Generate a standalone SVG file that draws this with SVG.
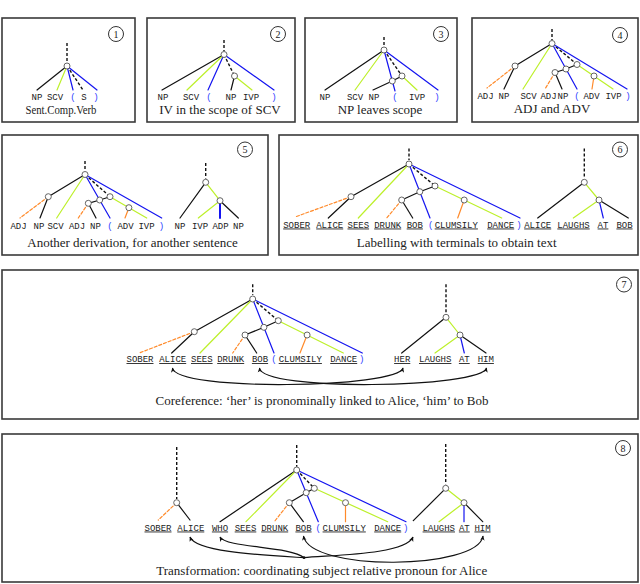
<svg xmlns="http://www.w3.org/2000/svg" width="640" height="584" viewBox="0 0 640 584">
<style>
.bx{fill:#fff;stroke:#3a3a3a;stroke-width:1.6}
.e{fill:none;stroke-width:1.2;stroke-linecap:round}
.k{stroke:#111}
.y{stroke:#bdf02a}
.b{stroke:#1414f0}
.o{stroke:#ff8a2a}
.d{stroke-dasharray:3 2}
.kd{stroke:#111;stroke-dasharray:3 2;stroke-width:1.4;stroke-linecap:butt}
.n{fill:#fff;stroke:#555;stroke-width:0.9}
.lb{font-family:"Liberation Mono",monospace;font-size:9px;fill:#222;text-anchor:middle}
.u{text-decoration:underline}
.p{fill:#3344ff}
.cap{font-family:"Liberation Serif",serif;font-size:13px;fill:#222;text-anchor:middle}
.num{fill:#fff;stroke:#333;stroke-width:1}
.nt{font-family:"Liberation Serif",serif;font-size:10px;text-anchor:middle;fill:#222}
.ar{fill:none;stroke:#111;stroke-width:1.2}
</style>
<defs>
<marker id="ah" viewBox="0 0 8 8" refX="7" refY="4" markerWidth="5" markerHeight="5" orient="auto-start-reverse" markerUnits="userSpaceOnUse">
<path d="M0,0.5 L8,4 L0,7.5 L2,4 Z" fill="#111"/>
</marker>
</defs>
<rect width="640" height="584" fill="#fff"/>

<!-- Panel 1 -->
<g id="panel1">
<rect class="bx" x="2" y="18" width="133" height="104"/>
<g id="p1-badge"><circle class="num" cx="116" cy="34" r="7.5"/><text class="nt" x="116" y="37.5">1</text></g>
<g id="p1-edges">
<line class="e kd" x1="67" y1="43" x2="67" y2="62"/>
<line class="e k" x1="67" y1="66" x2="37" y2="90"/>
<line class="e y" x1="67" y1="66" x2="57" y2="90"/>
<line class="e b" x1="67" y1="66" x2="73" y2="90"/>
<line class="e kd" x1="67" y1="66" x2="83" y2="90"/>
<line class="e b" x1="67" y1="66" x2="97" y2="90"/>
</g>
<g id="p1-root"><circle class="n" cx="67" cy="66" r="3"/></g>
<g id="p1-labels">
<text class="lb" x="37" y="100">NP</text>
<text class="lb" x="55" y="100">SCV</text>
<text class="lb p" x="73" y="100">(</text>
<text class="lb" x="84" y="100">S</text>
<text class="lb p" x="96" y="100">)</text>
</g>
<text class="cap" x="61" y="114" textLength="71" lengthAdjust="spacingAndGlyphs">Sent.Comp.Verb</text>
</g>

<!-- Panel 2 -->
<g id="panel2">
<rect class="bx" x="147" y="18" width="148" height="104"/>
<g id="p2-badge"><circle class="num" cx="278" cy="34" r="7.5"/><text class="nt" x="278" y="37.5">2</text></g>
<g id="p2-edges">
<line class="e kd" x1="224" y1="40" x2="224" y2="51"/>
<line class="e k" x1="224" y1="54.5" x2="162" y2="90"/>
<line class="e y" x1="224" y1="54.5" x2="187" y2="90"/>
<line class="e b" x1="224" y1="54.5" x2="208" y2="90"/>
<line class="e kd" x1="224" y1="54.5" x2="234.5" y2="76"/>
<line class="e b" x1="224" y1="54.5" x2="274" y2="90"/>
<line class="e k" x1="234.5" y1="76" x2="231" y2="90"/>
<line class="e y" x1="234.5" y1="76" x2="252" y2="90"/>
</g>
<g id="p2-root"><circle class="n" cx="224" cy="54.5" r="3"/></g>
<g id="p2-n2"><circle class="n" cx="234.5" cy="76" r="3"/></g>
<g id="p2-labels">
<text class="lb" x="163" y="100">NP</text>
<text class="lb" x="191" y="100">SCV</text>
<text class="lb p" x="209" y="100">(</text>
<text class="lb" x="231" y="100">NP</text>
<text class="lb" x="251" y="100">IVP</text>
<text class="lb p" x="274" y="100">)</text>
</g>
<text class="cap" x="220" y="114">IV in the scope of SCV</text>
</g>

<!-- Panel 3 -->
<g id="panel3">
<rect class="bx" x="305" y="18" width="152" height="104"/>
<g id="p3-badge"><circle class="num" cx="441" cy="34" r="7.5"/><text class="nt" x="441" y="37.5">3</text></g>
<g id="p3-edges">
<line class="e kd" x1="384" y1="37" x2="384" y2="47"/>
<line class="e k" x1="384" y1="50" x2="325" y2="90"/>
<line class="e y" x1="384" y1="50" x2="355" y2="90"/>
<line class="e b" x1="384" y1="50" x2="395" y2="91"/>
<line class="e kd" x1="384" y1="50" x2="402" y2="76"/>
<line class="e b" x1="384" y1="50" x2="438" y2="90"/>
<line class="e k" x1="402" y1="76" x2="392.3" y2="81"/>
<line class="e k" x1="392.3" y1="81" x2="373" y2="90"/>
<line class="e y" x1="402" y1="76" x2="417" y2="90"/>
</g>
<g id="p3-root"><circle class="n" cx="384" cy="50" r="3"/></g>
<g id="p3-na"><circle class="n" cx="392.3" cy="81" r="3"/></g>
<g id="p3-nb"><circle class="n" cx="402" cy="76" r="3"/></g>
<g id="p3-labels">
<text class="lb" x="325" y="100">NP</text>
<text class="lb" x="355" y="100">SCV</text>
<text class="lb" x="374" y="100">NP</text>
<text class="lb p" x="395" y="100">(</text>
<text class="lb" x="417" y="100">IVP</text>
<text class="lb p" x="437" y="100">)</text>
</g>
<text class="cap" x="380" y="114">NP leaves scope</text>
</g>

<!-- Panel 4 -->
<g id="panel4">
<rect class="bx" x="472" y="18" width="166" height="104"/>
<g id="p4-badge"><circle class="num" cx="620" cy="35" r="7.5"/><text class="nt" x="620" y="38.5">4</text></g>
<g id="p4-edges">
<line class="e kd" x1="552" y1="29" x2="552" y2="40"/>
<line class="e k" x1="552" y1="43.5" x2="515" y2="66"/>
<line class="e o d" x1="515" y1="66" x2="487" y2="88"/>
<line class="e k" x1="515" y1="66" x2="504" y2="89"/>
<line class="e y" x1="552" y1="43.5" x2="523" y2="89"/>
<line class="e b" x1="552" y1="43.5" x2="577" y2="89"/>
<line class="e kd" x1="552" y1="43.5" x2="577" y2="64.5"/>
<line class="e k" x1="577" y1="64.5" x2="566" y2="69"/>
<line class="e k" x1="566" y1="69" x2="555" y2="72.5"/>
<line class="e o d" x1="555" y1="72.5" x2="545" y2="89"/>
<line class="e k" x1="555" y1="72.5" x2="562" y2="89"/>
<line class="e y" x1="577" y1="64.5" x2="613" y2="89"/>
<line class="e o" x1="594" y1="76" x2="592" y2="89"/>
<line class="e b" x1="552" y1="43.5" x2="627" y2="89"/>
</g>
<g id="p4-root"><circle class="n" cx="552" cy="43.5" r="3"/></g>
<g id="p4-nl"><circle class="n" cx="515" cy="66" r="3"/></g>
<g id="p4-nm"><circle class="n" cx="566" cy="69" r="3"/></g>
<g id="p4-nr"><circle class="n" cx="577" cy="64.5" r="3"/></g>
<g id="p4-nk"><circle class="n" cx="555" cy="72.5" r="3"/></g>
<g id="p4-nv"><circle class="n" cx="594" cy="76" r="3"/></g>
<g id="p4-labels">
<text class="lb" x="485.5" y="99">ADJ</text>
<text class="lb" x="504" y="99">NP</text>
<text class="lb" x="528.5" y="99">SCV</text>
<text class="lb" x="548.5" y="99">ADJ</text>
<text class="lb" x="563" y="99">NP</text>
<text class="lb p" x="577" y="99">(</text>
<text class="lb" x="591.5" y="99">ADV</text>
<text class="lb" x="613.5" y="99">IVP</text>
<text class="lb p" x="628" y="99">)</text>
</g>
<text class="cap" x="552" y="113">ADJ and ADV</text>
</g>

<!-- Panel 5 -->
<g id="panel5">
<rect class="bx" x="2" y="135" width="266" height="120"/>
<g id="p5-badge"><circle class="num" cx="245" cy="149.5" r="7.5"/><text class="nt" x="245" y="153">5</text></g>
<g id="p5-edges">
<line class="e kd" x1="85" y1="161" x2="85" y2="171"/>
<line class="e k" x1="85" y1="174.5" x2="48.3" y2="196.7"/>
<line class="e o d" x1="48.3" y1="196.7" x2="20" y2="218"/>
<line class="e k" x1="48.3" y1="196.7" x2="40" y2="218"/>
<line class="e y" x1="85" y1="174.5" x2="56.7" y2="218"/>
<line class="e b" x1="85" y1="174.5" x2="110" y2="218"/>
<line class="e kd" x1="85" y1="174.5" x2="110" y2="196.7"/>
<line class="e k" x1="110" y1="196.7" x2="99.7" y2="200"/>
<line class="e k" x1="99.7" y1="200" x2="88.3" y2="203.3"/>
<line class="e o d" x1="88.3" y1="203.3" x2="78.3" y2="218"/>
<line class="e k" x1="88.3" y1="203.3" x2="96" y2="218"/>
<line class="e y" x1="110" y1="196.7" x2="146.7" y2="218"/>
<line class="e o" x1="128.9" y1="207.7" x2="125" y2="218"/>
<line class="e b" x1="85" y1="174.5" x2="161.7" y2="218"/>
<line class="e kd" x1="205.7" y1="163" x2="205.7" y2="178.5"/>
<line class="e k" x1="205.7" y1="182.3" x2="180" y2="218"/>
<line class="e y" x1="205.7" y1="182.3" x2="220" y2="200.7"/>
<line class="e y" x1="220" y1="200.7" x2="198.3" y2="218"/>
<line class="e b" x1="220" y1="200.7" x2="220" y2="218" style="stroke-width:2"/>
<line class="e k" x1="220" y1="200.7" x2="238.3" y2="218"/>
</g>
<g id="p5-root"><circle class="n" cx="85" cy="174.5" r="3"/></g>
<g id="p5-nl"><circle class="n" cx="48.3" cy="196.7" r="3"/></g>
<g id="p5-nm"><circle class="n" cx="99.7" cy="200" r="3"/></g>
<g id="p5-nr"><circle class="n" cx="110" cy="196.7" r="3"/></g>
<g id="p5-nk"><circle class="n" cx="88.3" cy="203.3" r="3"/></g>
<g id="p5-nv"><circle class="n" cx="128.9" cy="207.7" r="3"/></g>
<g id="p5-root2"><circle class="n" cx="205.7" cy="182.3" r="3"/></g>
<g id="p5-nn"><circle class="n" cx="220" cy="200.7" r="3"/></g>
<g id="p5-labels">
<text class="lb" x="18.5" y="229">ADJ</text>
<text class="lb" x="39" y="229">NP</text>
<text class="lb" x="55.5" y="229">SCV</text>
<text class="lb" x="77" y="229">ADJ</text>
<text class="lb" x="95.5" y="229">NP</text>
<text class="lb p" x="110" y="229">(</text>
<text class="lb" x="125.5" y="229">ADV</text>
<text class="lb" x="146.5" y="229">IVP</text>
<text class="lb p" x="161.5" y="229">)</text>
<text class="lb" x="180" y="229">NP</text>
<text class="lb" x="200" y="229">IVP</text>
<text class="lb" x="220.5" y="229">ADP</text>
<text class="lb" x="238.5" y="229">NP</text>
</g>
<text class="cap" x="132.5" y="247">Another derivation, for another sentence</text>
</g>

<!-- Panel 6 -->
<g id="panel6">
<rect class="bx" x="279" y="135" width="359" height="120"/>
<g id="p6-badge"><circle class="num" cx="620" cy="149.5" r="7.5"/><text class="nt" x="620" y="153">6</text></g>
<g id="p6-edges">
<line class="e kd" x1="409" y1="148.5" x2="409" y2="160"/>
<line class="e k" x1="409" y1="164" x2="351" y2="196.7"/>
<line class="e o d" x1="351" y1="196.7" x2="295" y2="217"/>
<line class="e k" x1="351" y1="196.7" x2="328.3" y2="218"/>
<line class="e y" x1="409" y1="164" x2="358.3" y2="218"/>
<line class="e b" x1="409" y1="164" x2="430" y2="218"/>
<line class="e kd" x1="409" y1="164" x2="435" y2="186"/>
<line class="e k" x1="435" y1="186" x2="419.8" y2="191.7"/>
<line class="e k" x1="419.8" y1="191.7" x2="401.7" y2="200"/>
<line class="e o d" x1="401.7" y1="200" x2="386.7" y2="218"/>
<line class="e k" x1="401.7" y1="200" x2="412.7" y2="218"/>
<line class="e y" x1="435" y1="186" x2="501.7" y2="218"/>
<line class="e o" x1="464.2" y1="200" x2="457.7" y2="218"/>
<line class="e b" x1="409" y1="164" x2="520" y2="218"/>
<line class="e kd" x1="584.3" y1="148.5" x2="584.3" y2="178.5"/>
<line class="e k" x1="584.3" y1="182.3" x2="537.7" y2="218"/>
<line class="e y" x1="584.3" y1="182.3" x2="599" y2="200"/>
<line class="e y" x1="599" y1="200" x2="573.3" y2="218"/>
<line class="e b" x1="599" y1="200" x2="603.3" y2="218"/>
<line class="e k" x1="599" y1="200" x2="628.3" y2="218"/>
</g>
<g id="p6-root"><circle class="n" cx="409" cy="164" r="3"/></g>
<g id="p6-nl"><circle class="n" cx="351" cy="196.7" r="3"/></g>
<g id="p6-nm"><circle class="n" cx="419.8" cy="191.7" r="3"/></g>
<g id="p6-nr"><circle class="n" cx="435" cy="186" r="3"/></g>
<g id="p6-nk"><circle class="n" cx="401.7" cy="200" r="3"/></g>
<g id="p6-nv"><circle class="n" cx="464.2" cy="200" r="3"/></g>
<g id="p6-root2"><circle class="n" cx="584.3" cy="182.3" r="3"/></g>
<g id="p6-nn"><circle class="n" cx="599" cy="200" r="3"/></g>
<g id="p6-labels">
<text class="lb u" x="296.7" y="227.5">SOBER</text>
<text class="lb u" x="329.7" y="227.5">ALICE</text>
<text class="lb u" x="358.3" y="227.5">SEES</text>
<text class="lb u" x="387.7" y="227.5">DRUNK</text>
<text class="lb u" x="414.8" y="227.5">BOB</text>
<text class="lb p" x="430.7" y="227.5">(</text>
<text class="lb u" x="456.3" y="227.5">CLUMSILY</text>
<text class="lb u" x="500.7" y="227.5">DANCE</text>
<text class="lb p" x="519" y="227.5">)</text>
<text class="lb u" x="537.7" y="227.5">ALICE</text>
<text class="lb u" x="573.5" y="227.5">LAUGHS</text>
<text class="lb u" x="603" y="227.5">AT</text>
<text class="lb u" x="624.5" y="227.5">BOB</text>
</g>
<text class="cap" x="456.7" y="247">Labelling with terminals to obtain text</text>
</g>

<!-- Panel 7 -->
<g id="panel7">
<rect class="bx" x="2" y="270" width="636" height="149"/>
<g id="p7-badge"><circle class="num" cx="624" cy="284.5" r="7.5"/><text class="nt" x="624" y="288">7</text></g>
<g id="p7-edges">
<line class="e kd" x1="252.7" y1="284.3" x2="252.7" y2="295"/>
<line class="e k" x1="252.7" y1="299" x2="194.3" y2="331.7"/>
<line class="e o d" x1="194.3" y1="331.7" x2="139.3" y2="353"/>
<line class="e k" x1="194.3" y1="331.7" x2="171.7" y2="353"/>
<line class="e y" x1="252.7" y1="299" x2="200" y2="353"/>
<line class="e b" x1="252.7" y1="299" x2="274" y2="353"/>
<line class="e kd" x1="252.7" y1="299" x2="278.3" y2="320.7"/>
<line class="e k" x1="278.3" y1="320.7" x2="263.9" y2="327.3"/>
<line class="e k" x1="263.9" y1="327.3" x2="245" y2="335"/>
<line class="e o d" x1="245" y1="335" x2="232.7" y2="353"/>
<line class="e k" x1="245" y1="335" x2="256.7" y2="353"/>
<line class="e y" x1="278.3" y1="320.7" x2="343.3" y2="353"/>
<line class="e o" x1="307.1" y1="335" x2="300" y2="353"/>
<line class="e b" x1="252.7" y1="299" x2="362.3" y2="353"/>
<line class="e kd" x1="446" y1="284.3" x2="446" y2="313.3"/>
<line class="e k" x1="446" y1="317.3" x2="401.7" y2="353"/>
<line class="e y" x1="446" y1="317.3" x2="460" y2="335"/>
<line class="e y" x1="460" y1="335" x2="435" y2="353"/>
<line class="e b" x1="460" y1="335" x2="464.3" y2="353"/>
<line class="e k" x1="460" y1="335" x2="486" y2="353"/>
<path class="ar" d="M172.5,368 C176,392 398,388 403,368" marker-start="url(#ah)" marker-end="url(#ah)"/>
<path class="ar" d="M259.5,368 C262,392 482,388 486.5,368" marker-start="url(#ah)" marker-end="url(#ah)"/>
</g>
<g id="p7-root"><circle class="n" cx="252.7" cy="299" r="3"/></g>
<g id="p7-nl"><circle class="n" cx="194.3" cy="331.7" r="3"/></g>
<g id="p7-nm"><circle class="n" cx="263.9" cy="327.3" r="3"/></g>
<g id="p7-nr"><circle class="n" cx="278.3" cy="320.7" r="3"/></g>
<g id="p7-nk"><circle class="n" cx="245" cy="335" r="3"/></g>
<g id="p7-nv"><circle class="n" cx="307.1" cy="335" r="3"/></g>
<g id="p7-root2"><circle class="n" cx="446" cy="317.3" r="3"/></g>
<g id="p7-nn"><circle class="n" cx="460" cy="335" r="3"/></g>
<g id="p7-labels">
<text class="lb u" x="140" y="362">SOBER</text>
<text class="lb u" x="172.7" y="362">ALICE</text>
<text class="lb u" x="201.8" y="362">SEES</text>
<text class="lb u" x="230.7" y="362">DRUNK</text>
<text class="lb u" x="260" y="362">BOB</text>
<text class="lb p" x="274" y="362">(</text>
<text class="lb u" x="300.3" y="362">CLUMSILY</text>
<text class="lb u" x="343.7" y="362">DANCE</text>
<text class="lb p" x="361.7" y="362">)</text>
<text class="lb u" x="402.2" y="362">HER</text>
<text class="lb u" x="435.2" y="362">LAUGHS</text>
<text class="lb u" x="464.3" y="362">AT</text>
<text class="lb u" x="485.8" y="362">HIM</text>
</g>
<text class="cap" x="322" y="405">Coreference: ‘her’ is pronominally linked to Alice, ‘him’ to Bob</text>
</g>

<!-- Panel 8 -->
<g id="panel8">
<rect class="bx" x="2" y="434" width="636" height="148"/>
<g id="p8-badge"><circle class="num" cx="623" cy="448" r="7.5"/><text class="nt" x="623" y="451.5">8</text></g>
<g id="p8-edges">
<line class="e kd" x1="176.7" y1="447" x2="176.7" y2="499"/>
<line class="e o d" x1="176.7" y1="502.7" x2="158.3" y2="520"/>
<line class="e k" x1="176.7" y1="502.7" x2="190" y2="520"/>
<line class="e kd" x1="296.7" y1="445" x2="296.7" y2="466.7"/>
<line class="e k" x1="296.7" y1="470" x2="220" y2="521.7"/>
<line class="e y" x1="296.7" y1="470" x2="246" y2="521.7"/>
<line class="e b" x1="296.7" y1="470" x2="318.3" y2="521.7"/>
<line class="e kd" x1="296.7" y1="470" x2="314.3" y2="488.3"/>
<line class="e k" x1="314.3" y1="488.3" x2="306.2" y2="492.7"/>
<line class="e k" x1="306.2" y1="492.7" x2="289.3" y2="502.7"/>
<line class="e o d" x1="289.3" y1="502.7" x2="274.3" y2="521.7"/>
<line class="e k" x1="289.3" y1="502.7" x2="303.3" y2="521.7"/>
<line class="e y" x1="314.3" y1="488.3" x2="387.7" y2="521.7"/>
<line class="e o" x1="345.5" y1="502.7" x2="345.5" y2="521.7"/>
<line class="e b" x1="296.7" y1="470" x2="406" y2="521.7"/>
<line class="e kd" x1="445.7" y1="444" x2="445.7" y2="484.3"/>
<line class="e k" x1="445.7" y1="488.3" x2="413.3" y2="520.7"/>
<line class="e y" x1="445.7" y1="488.3" x2="464" y2="502.7"/>
<line class="e y" x1="464" y1="502.7" x2="439" y2="521.7"/>
<line class="e b" x1="464" y1="502.7" x2="464" y2="521.7"/>
<line class="e k" x1="464" y1="502.7" x2="482.7" y2="521.7"/>
<path class="ar" d="M303.5,536 C310,572 478,570 483,536" marker-start="url(#ah)" marker-end="url(#ah)"/>
<path class="ar" d="M304,557.7 C330,555 405,555 413,537" marker-end="url(#ah)"/>
<path class="ar" d="M304,557.7 C260,555 196,552 190,537" marker-end="url(#ah)"/>
<path class="ar" d="M304,557.7 C290,546 226,548 220,537" marker-end="url(#ah)"/>
<circle cx="304" cy="557.7" r="1.4" fill="#111"/>
</g>
<g id="p8-n0"><circle class="n" cx="176.7" cy="502.7" r="3"/></g>
<g id="p8-root"><circle class="n" cx="296.7" cy="470" r="3"/></g>
<g id="p8-nm"><circle class="n" cx="306.2" cy="492.7" r="3"/></g>
<g id="p8-nr"><circle class="n" cx="314.3" cy="488.3" r="3"/></g>
<g id="p8-nk"><circle class="n" cx="289.3" cy="502.7" r="3"/></g>
<g id="p8-nv"><circle class="n" cx="345.5" cy="502.7" r="3"/></g>
<g id="p8-root2"><circle class="n" cx="445.7" cy="488.3" r="3"/></g>
<g id="p8-nn"><circle class="n" cx="464" cy="502.7" r="3"/></g>
<g id="p8-labels">
<text class="lb u" x="158" y="530.5">SOBER</text>
<text class="lb u" x="190.8" y="530.5">ALICE</text>
<text class="lb u" x="220" y="530.5">WHO</text>
<text class="lb u" x="245.5" y="530.5">SEES</text>
<text class="lb u" x="274.7" y="530.5">DRUNK</text>
<text class="lb u" x="303.5" y="530.5">BOB</text>
<text class="lb p" x="318.3" y="530.5">(</text>
<text class="lb u" x="344.2" y="530.5">CLUMSILY</text>
<text class="lb u" x="387.7" y="530.5">DANCE</text>
<text class="lb p" x="405.7" y="530.5">)</text>
<text class="lb u" x="438.8" y="530.5">LAUGHS</text>
<text class="lb u" x="464.3" y="530.5">AT</text>
<text class="lb u" x="482.5" y="530.5">HIM</text>
</g>
<text class="cap" x="321.7" y="575">Transformation: coordinating subject relative pronoun for Alice</text>
</g>
</svg>
